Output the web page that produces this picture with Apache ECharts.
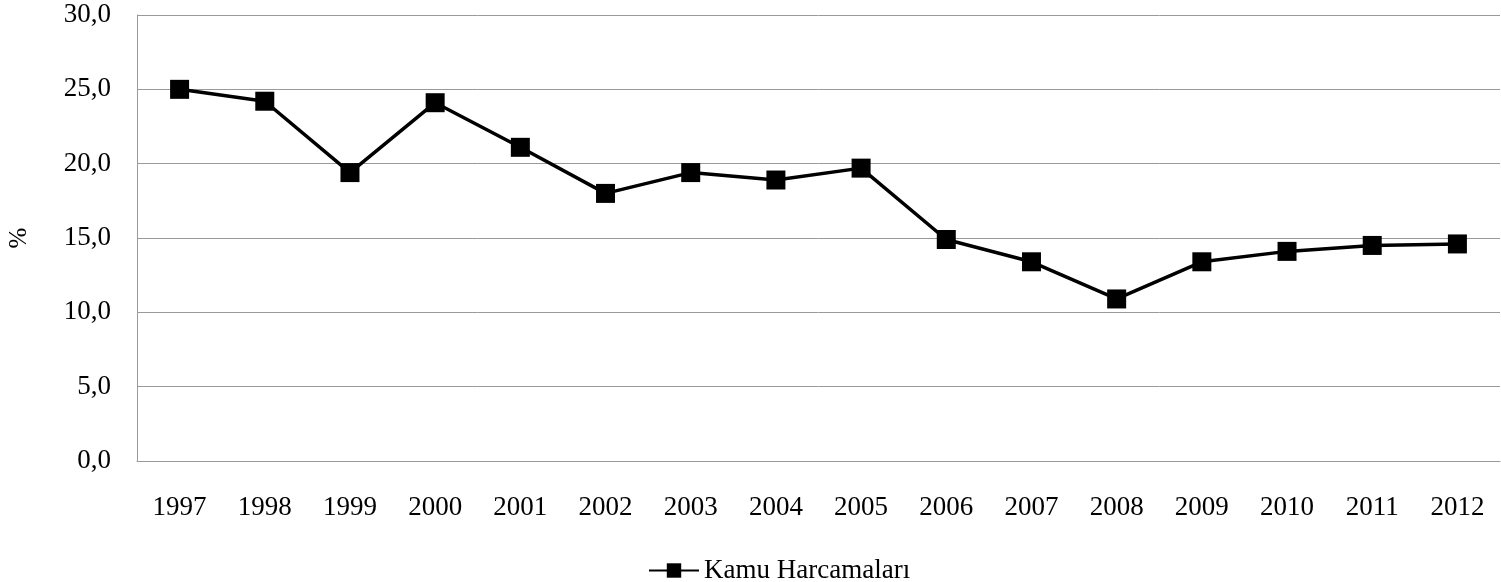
<!DOCTYPE html>
<html>
<head>
<meta charset="utf-8">
<style>
  html, body { margin: 0; padding: 0; background: #fff; }
  #chart { width: 1501px; height: 582px; }
</style>
<script src="https://cdn.jsdelivr.net/npm/echarts@6/dist/echarts.min.js"></script>
</head>
<body>
<div id="chart"></div>
<script>
  // data
  const years = ["1997", "1998", "1999", "2000", "2001", "2002", "2003", "2004",
    "2005", "2006", "2007", "2008", "2009", "2010", "2011", "2012"]
  const kamuHarcamalari = [25.0, 24.2, 19.4, 24.1, 21.1, 18.0, 19.4, 18.9,
    19.7, 14.9, 13.4, 10.9, 13.4, 14.1, 14.5, 14.6]
  const seriesName = "Kamu Harcamaları"

  const font = "'Liberation Serif', 'Times New Roman', serif"

  const chart = echarts.init(document.getElementById("chart"))

  chart.setOption({
    animation: false,
    grid: {
      left: 137,
      right: 1,
      top: 15,
      bottom: 121,
      containLabel: false,
      outerBoundsMode: "none"
    },
    legend: {
      left: 643,
      top: 552,
      itemWidth: 50,
      itemHeight: 18,
      itemGap: 4,
      textStyle: {
        fontFamily: font,
        fontSize: 27,
        color: "#000"
      },
      data: [seriesName]
    },
    xAxis: {
      type: "category",
      data: years,
      boundaryGap: true,
      axisLine: { lineStyle: { color: "#9a9a9a", width: 1 } },
      axisTick: { show: false },
      axisLabel: {
        margin: 33,
        fontFamily: font,
        fontSize: 27,
        color: "#000"
      }
    },
    yAxis: {
      type: "value",
      min: 0,
      max: 30,
      interval: 5,
      name: "%",
      nameLocation: "middle",
      nameRotate: 90,
      nameGap: 105,
      nameTextStyle: {
        fontFamily: font,
        fontSize: 25,
        color: "#000"
      },
      axisLine: { show: true, lineStyle: { color: "#9a9a9a", width: 1 } },
      axisTick: { show: false },
      splitLine: { lineStyle: { color: "#9a9a9a", width: 1 } },
      axisLabel: {
        margin: 26,
        fontFamily: font,
        fontSize: 27,
        color: "#000",
        formatter: v => v.toFixed(1).replace(".", ",")
      }
    },
    series: [
      {
        name: seriesName,
        type: "line",
        data: kamuHarcamalari,
        symbol: "rect",
        symbolSize: 19,
        lineStyle: { color: "#000", width: 3.5 },
        itemStyle: { color: "#000" }
      }
    ]
  })
</script>
</body>
</html>
